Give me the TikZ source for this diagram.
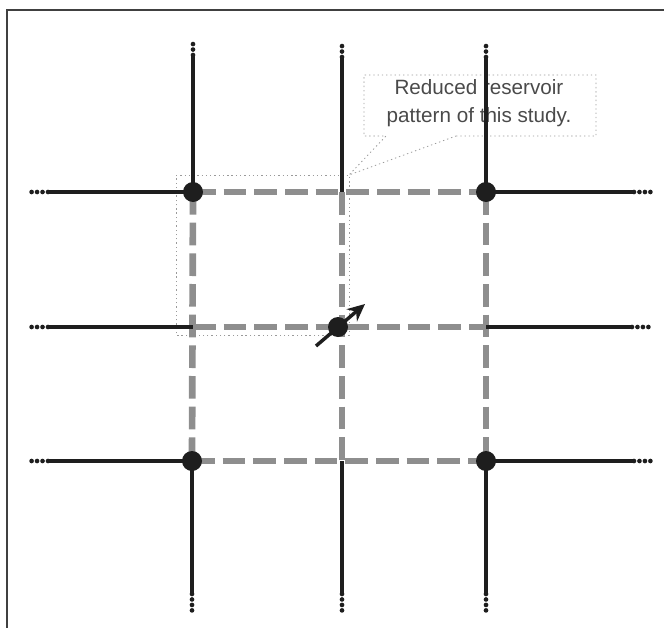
\documentclass[tikz,border=0pt]{standalone}
\usepackage{fontspec}
\setmainfont{Liberation Sans}
\usetikzlibrary{arrows.meta}
\definecolor{gridblack}{HTML}{1E1E1E}
\definecolor{pgray}{HTML}{8E8E8E}
\definecolor{txtgray}{HTML}{4A4A4A}
\definecolor{dotgray}{HTML}{9A9A9A}
\begin{document}
\begin{tikzpicture}[x=0.75pt,y=-0.75pt,
  wellline/.style={draw=gridblack,line width=2.7pt},
  endots/.style={draw=gridblack,line width=3.5pt,line cap=round,dash pattern=on 0pt off 4.1pt},
  pattern/.style={draw=pgray,line width=5pt,dash pattern=on 17pt off 6pt},
  well/.style={circle,fill=gridblack,inner sep=0pt,minimum size=15pt},
  thindot/.style={draw=dotgray,line width=0.6pt,dash pattern=on 1pt off 2.2pt},
  frameline/.style={draw=black!75,line width=1.4pt}]
\useasboundingbox (0,0) rectangle (664,628);
% frame
\draw[frameline] (7,628) -- (7,10) -- (664,10);
% callout text and box
\node[text=txtgray,font=\fontsize{15.5}{20.5}\selectfont,align=center] (label) at (479,103) {Reduced reservoir\\pattern of this study.};
\coordinate (cA) at (364,75);
\coordinate (cB) at (596,75);
\coordinate (cC) at (596,136);
\coordinate (cD) at (364,136);
\coordinate (p1) at (386,136);
\coordinate (p2) at (456,136);
\coordinate (tip) at (349,175);
\draw[thindot] (p2) -- (cC) -- (cB) -- (cA) -- (cD) -- (p1) -- (tip) -- (p2);
% reduced pattern outline
\coordinate (rA) at (176,175);
\coordinate (rB) at (349,175);
\coordinate (rC) at (349,335);
\coordinate (rD) at (176,335);
\draw[thindot] (rA) -- (rB) -- (rC) -- (rD) -- cycle;
% grid positions
\coordinate (g11) at (193,192);
\coordinate (g12) at (342,192);
\coordinate (g13) at (486,192);
\coordinate (g21) at (193,327);
\coordinate (g23) at (486,327);
\coordinate (g31) at (192,461);
\coordinate (g32) at (342,461);
\coordinate (g33) at (486,461);
% pattern (gray dashed)
\draw[pattern] (g11) -- (g13);
\draw[pattern] (g21) -- (g23);
\draw[pattern] (g31) -- (g33);
\draw[pattern] (g11) -- (g31);
\draw[pattern] (g12) -- (g32);
\draw[pattern] (g13) -- (g33);
% black grid lines with dotted ends
\coordinate (t1) at (193,55);  \coordinate (t1d) at (193,40);
\coordinate (t2) at (342,57);  \coordinate (t2d) at (342,43);
\coordinate (t3) at (486,57);  \coordinate (t3d) at (486,44);
\coordinate (b1) at (192,594); \coordinate (b1d) at (192,611);
\coordinate (b2) at (342,594); \coordinate (b2d) at (342,611);
\coordinate (b3) at (486,594); \coordinate (b3d) at (486,612);
\coordinate (l1) at (48,192);  \coordinate (l1d) at (30,192);
\coordinate (l2) at (48,327);  \coordinate (l2d) at (30,327);
\coordinate (l3) at (48,461);  \coordinate (l3d) at (30,461);
\coordinate (r1) at (634,192); \coordinate (r1d) at (652,192);
\coordinate (r2) at (632,327); \coordinate (r2d) at (649,327);
\coordinate (r3) at (634,461); \coordinate (r3d) at (652,461);
\draw[wellline] (t1) -- (g11);
\draw[wellline] (t2) -- (g12);
\draw[wellline] (t3) -- (g13);
\draw[wellline] (g31) -- (b1);
\draw[wellline] (g32) -- (b2);
\draw[wellline] (g33) -- (b3);
\draw[wellline] (l1) -- (g11);
\draw[wellline] (l2) -- (g21);
\draw[wellline] (l3) -- (g31);
\draw[wellline] (g13) -- (r1);
\draw[wellline] (g23) -- (r2);
\draw[wellline] (g33) -- (r3);
\foreach \a/\b in {t1/t1d,t2/t2d,t3/t3d,b1/b1d,b2/b2d,b3/b3d,l1/l1d,l2/l2d,l3/l3d,r1/r1d,r2/r2d,r3/r3d}
  \draw[endots] (\a) -- (\b);
% wells
\node[well] (w11) at (g11) {};
\node[well] (w13) at (g13) {};
\node[well] (w31) at (g31) {};
\node[well] (w33) at (g33) {};
\node[well] (w22) at (338,327) {};
% arrow
\coordinate (aS) at (316,346);
\coordinate (aE) at (365,304);
\draw[gridblack,line width=2.6pt,-{Stealth[length=13pt,width=12pt]}] (aS) -- (aE);
\end{tikzpicture}
\end{document}
